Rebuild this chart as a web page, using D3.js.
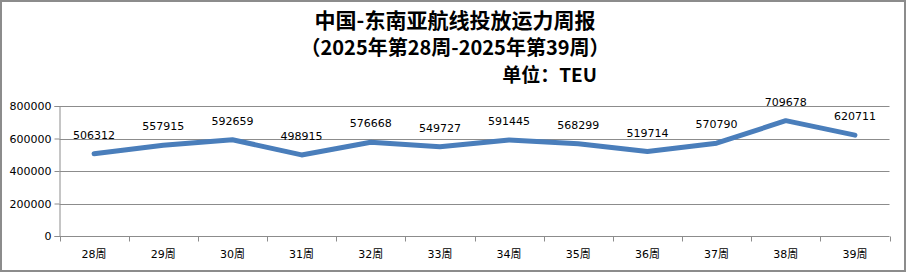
<!DOCTYPE html>
<html>
<head>
<meta charset="utf-8">
<script src="https://cdn.jsdelivr.net/npm/d3@7"></script>
<style>
  html, body { margin: 0; padding: 0; background: #fff; }
  svg { display: block; }
</style>
</head>
<body>
<svg id="chart" width="906" height="272"></svg>
<script>
// Weekly capacity deployed on China – Southeast Asia routes (TEU)
const weeks = ["28周", "29周", "30周", "31周", "32周", "33周", "34周", "35周", "36周", "37周", "38周", "39周"];
const capacity = [506312, 557915, 592659, 498915, 576668, 549727, 591445, 568299, 519714, 570790, 709678, 620711];
const yTicks = [0, 200000, 400000, 600000, 800000];
const titleLines = ["中国-东南亚航线投放运力周报", "（2025年第28周-2025年第39周）"];
const unitLabel = "单位：TEU";

const W = 906, H = 272;
const margin = { left: 59.5, right: 16.5, top: 106, bottom: 36 };
const svg = d3.select("#chart");

// outer frame
svg.append("rect")
  .attr("x", 1).attr("y", 1).attr("width", W - 2).attr("height", H - 2)
  .attr("fill", "#fff").attr("stroke", "#8c8c8c").attr("stroke-width", 2);

const x = d3.scaleBand().domain(weeks).range([margin.left, W - margin.right]);
const y = d3.scaleLinear().domain([0, 800000]).range([H - margin.bottom, margin.top]);

const cjk = "'Noto Sans CJK SC', 'Noto Sans', sans-serif";
const latin = "'DejaVu Sans', 'Noto Sans CJK SC', sans-serif";

// titles
const title = svg.append("g").attr("font-family", cjk).attr("font-weight", "bold").attr("fill", "#000");
title.selectAll("text.t").data(titleLines).join("text")
  .attr("class", "t")
  .attr("x", 455).attr("y", (d, i) => 28 + i * 27)
  .attr("text-anchor", "middle")
  .attr("font-size", (d, i) => i === 0 ? 21 : 20)
  .text(d => d);
title.append("text")
  .attr("x", 597).attr("y", 82)
  .attr("text-anchor", "end")
  .attr("font-size", 19)
  .text(unitLabel);

// horizontal gridlines
svg.append("g")
  .selectAll("line").data(yTicks.slice(1)).join("line")
  .attr("x1", margin.left).attr("x2", W - margin.right)
  .attr("y1", d => Math.round(y(d)) + 0.5).attr("y2", d => Math.round(y(d)) + 0.5)
  .attr("stroke", "#8c8c8c").attr("stroke-width", 1);

// y axis
const yAxis = svg.append("g")
  .attr("transform", `translate(${margin.left},0)`)
  .call(d3.axisLeft(y).tickValues(yTicks).tickFormat(d3.format("d")).tickSize(5).tickPadding(3));
yAxis.select(".domain").attr("stroke", "#8c8c8c");
yAxis.selectAll(".tick line").attr("stroke", "#8c8c8c");
yAxis.selectAll(".tick text").attr("font-family", latin).attr("font-size", 11).attr("fill", "#000");

// x axis with boundary ticks between categories
const xAxisG = svg.append("g").attr("transform", `translate(0,${Math.round(y(0)) + 0.5})`);
xAxisG.append("line")
  .attr("x1", margin.left).attr("x2", W - margin.right)
  .attr("stroke", "#8c8c8c");
const bounds = weeks.map(w => x(w)).concat([x(weeks[weeks.length - 1]) + x.bandwidth()]);
xAxisG.selectAll("line.b").data(bounds).join("line")
  .attr("class", "b")
  .attr("x1", d => Math.round(d) + 0.5).attr("x2", d => Math.round(d) + 0.5)
  .attr("y1", 0).attr("y2", 5)
  .attr("stroke", "#8c8c8c");
xAxisG.selectAll("text").data(weeks).join("text")
  .attr("x", d => x(d) + x.bandwidth() / 2)
  .attr("y", 21)
  .attr("text-anchor", "middle")
  .attr("font-family", latin).attr("font-size", 11).attr("fill", "#000")
  .text(d => d);

// series line
const cx = d => x(d) + x.bandwidth() / 2;
const line = d3.line().x((d, i) => cx(weeks[i])).y(d => y(d));
svg.append("path")
  .datum(capacity)
  .attr("d", line)
  .attr("fill", "none")
  .attr("stroke", "#4a7ebb")
  .attr("stroke-width", 5)
  .attr("stroke-linejoin", "round")
  .attr("stroke-linecap", "round");

// data labels
svg.append("g").selectAll("text").data(capacity).join("text")
  .attr("x", (d, i) => cx(weeks[i]))
  .attr("y", d => y(d) - 15)
  .attr("text-anchor", "middle")
  .attr("font-family", latin).attr("font-size", 11).attr("fill", "#000")
  .text(d => d);
</script>
</body>
</html>
